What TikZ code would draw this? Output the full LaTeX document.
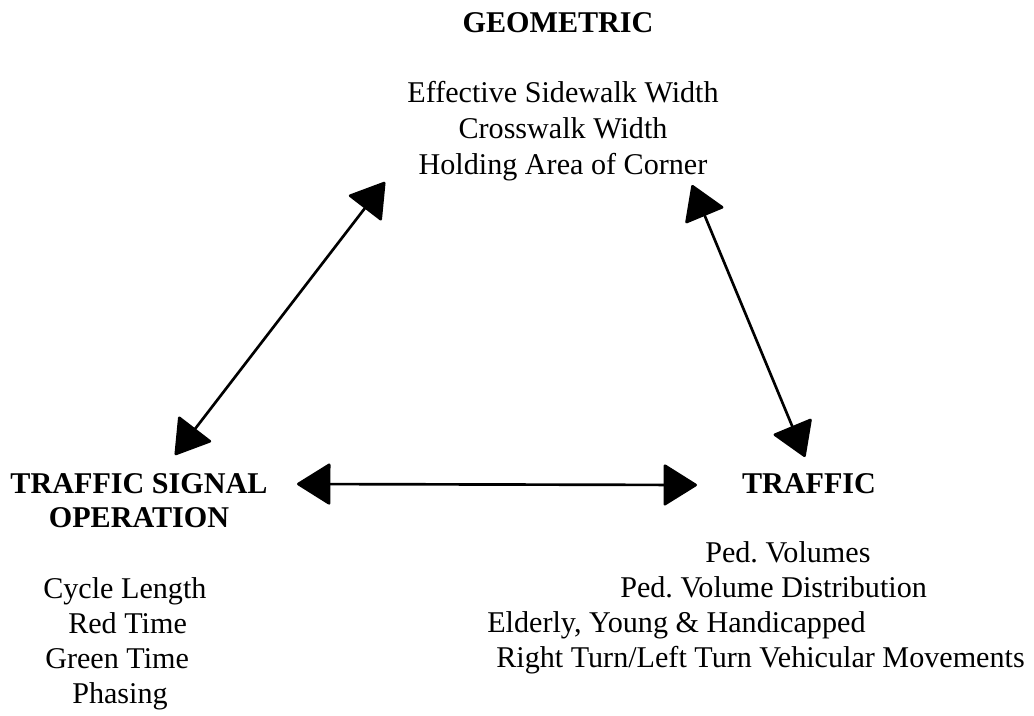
\documentclass[tikz,border=0pt]{standalone}
\usepackage{fontspec}
\setmainfont{Liberation Serif}
\usetikzlibrary{arrows.meta,positioning}
\tikzset{
  hdr/.style={font=\fontsize{22.6}{25.5}\selectfont\bfseries, inner sep=0pt, anchor=base},
  entry/.style={font=\fontsize{22.6}{27}\selectfont, inner sep=0pt},
  link/.style={line width=2pt,
    {Triangle[length=26pt,width=32pt,round]}-{Triangle[length=26pt,width=32pt,round]}}
}
\begin{document}
\begin{tikzpicture}[x=0.75pt, y=-0.75pt]
  \useasboundingbox (0,0) rectangle (1034,715);
  % headings (a two-line node sits on its last baseline)
  \node[hdr] (geo) at (558,32) {GEOMETRIC};
  \node[hdr, align=center] (tsig) at (139,527) {TRAFFIC SIGNAL\\OPERATION};
  \node[hdr] (traf) at (809,493) {TRAFFIC};
  % factor lists
  \foreach \t [count=\i] in {Effective Sidewalk Width, Crosswalk Width, Holding Area of Corner}
    \node[entry, anchor=base] (geo\i) at (563,66+36*\i) {\t};
  \foreach \x/\y/\t [count=\i] in {43/598/{Cycle Length}, 68/633/{Red Time},
      45/668/{Green Time}, 72/703/{Phasing}}
    \node[entry, anchor=base west] (sig\i) at (\x,\y) {\t};
  \foreach \x/\y/\t [count=\i] in {705/562/{Ped.\ Volumes}, 620/597/{Ped.\ Volume Distribution},
      487/632/{Elderly, Young \& Handicapped}, 496/667/{Right Turn/Left Turn Vehicular Movements}}
    \node[entry, anchor=base west] (traf\i) at (\x,\y) {\t};
  % arrow ends
  \coordinate (geoL) at (385,182);
  \coordinate (geoR) at (692,185);
  \coordinate (sigU) at (175,455);
  \coordinate (sigR) at (297,484);
  \coordinate (trafL) at (697,485);
  \coordinate (trafU) at (805,457);
  \draw[link] (sigU) -- (geoL);
  \draw[link] (geoR) -- (trafU);
  \draw[link] (sigR) -- (trafL);
\end{tikzpicture}
\end{document}
